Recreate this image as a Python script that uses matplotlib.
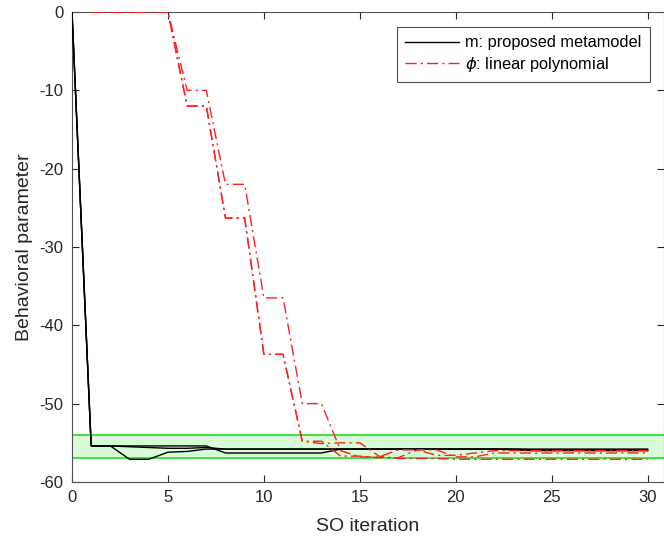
import numpy as np
import matplotlib
matplotlib.use('Agg')
from matplotlib import pyplot as plt

plt.rcParams['font.family'] = ['Liberation Sans', 'DejaVu Sans']
plt.rcParams['mathtext.fontset'] = 'dejavusans'
plt.rcParams['axes.unicode_minus'] = False

# band of the target behavioral parameter
band_lo = -57.0
band_hi = -54.0

# black runs: proposed metamodel
it_m = list(range(0, 31))
m_run1 = [0, -55.4, -55.4, -55.4, -55.4, -55.4, -55.4, -55.4, -56.3, -56.3,
          -56.3, -56.3, -56.3, -56.3, -55.8, -55.8, -55.8, -55.8, -55.8, -55.8,
          -55.8, -55.8, -55.8, -55.8, -55.8, -55.8, -55.8, -55.8, -55.8, -55.8, -55.8]
m_run2 = [0, -55.4, -55.4, -57.1, -57.1, -56.2, -56.1, -55.8, -55.8, -55.8,
          -55.8, -55.8, -55.8, -55.8, -55.8, -55.8, -55.8, -55.8, -55.8, -55.8,
          -55.8, -55.8, -55.8, -55.8, -55.9, -55.9, -55.9, -55.9, -55.9, -55.9, -55.9]
m_run3 = [0, -55.4, -55.4, -55.5, -55.6, -55.7, -55.7, -55.6, -55.8, -55.8,
          -55.8, -55.8, -55.8, -55.8, -55.8, -55.8, -55.8, -55.8, -55.8, -55.8,
          -55.8, -55.8, -55.8, -55.9, -56.0, -56.0, -56.0, -56.0, -56.0, -56.0, -56.0]

# red runs: linear polynomial
it_p = list(range(1, 31))
p_run1 = [0, 0, 0, 0, 0, -10, -10, -22, -22, -36.5,
          -36.5, -50, -50, -56.0, -56.8, -56.8, -55.9, -55.9, -56.6, -56.6,
          -56.3, -56.0, -56.0, -56.0, -56.0, -56.0, -56.0, -56.0, -56.0, -56.0]
p_run2 = [0, 0, 0, 0, 0, -12, -12, -26.3, -26.3, -43.7,
          -43.7, -54.8, -54.8, -56.7, -56.7, -56.9, -56.9, -55.9, -55.9, -56.8,
          -56.8, -56.3, -56.3, -56.3, -56.3, -56.3, -56.3, -56.3, -56.3, -56.3]
p_run3 = [0, 0, 0, 0, 0, -12, -12, -26.3, -26.3, -43.7,
          -43.7, -54.8, -55.1, -55.0, -55.0, -56.7, -57.0, -57.0, -57.0, -57.1,
          -57.1, -57.1, -57.1, -57.1, -57.1, -57.1, -57.1, -57.1, -57.1, -57.1]

fig = plt.figure(figsize=(6.64, 5.41), dpi=100)
ax = fig.add_axes([0.1084, 0.1091, 0.8916, 0.8687])

ax.axhspan(band_lo, band_hi, facecolor='#d8fcd8', edgecolor='none', zorder=0)
ax.axhline(band_lo, color='#22dd22', lw=1.2, zorder=1)
ax.axhline(band_hi, color='#22dd22', lw=1.2, zorder=1)

ax.plot(it_m, m_run1, color='k', lw=1.0, label='m: proposed metamodel', zorder=3)
ax.plot(it_m, m_run2, color='k', lw=1.0, zorder=3)
ax.plot(it_m, m_run3, color='k', lw=1.0, zorder=3)

dd = (0, (8, 3, 1.5, 3))
ax.plot(it_p, p_run1, color='#ff2020', lw=1.0, ls=dd, label=r'$\phi$: linear polynomial', zorder=4)
ax.plot(it_p, p_run2, color='#ff2020', lw=1.0, ls=dd, zorder=4)
ax.plot(it_p, p_run3, color='#ff2020', lw=1.0, ls=dd, zorder=4)

ax.set_xlim(0, 30.85)
ax.set_ylim(-60, 0)
ax.set_xticks([0, 5, 10, 15, 20, 25, 30])
ax.set_yticks([-60, -50, -40, -30, -20, -10, 0])
ax.tick_params(direction='in', top=True, right=True, length=5, width=0.8,
               labelsize=12, colors='#262626', pad=6)
for s in ax.spines.values():
    s.set_color('#505050')
    s.set_linewidth(0.8)

ax.set_xlabel('SO iteration', fontsize=14, color='#262626', labelpad=9)
ax.set_ylabel('Behavioral parameter', fontsize=14, color='#262626', labelpad=5)

leg = ax.legend(loc='upper right', bbox_to_anchor=(0.976, 0.968), fontsize=11.8,
                frameon=True, fancybox=False, handlelength=3.3, borderpad=0.5,
                labelspacing=0.3, handletextpad=0.35, borderaxespad=0)
leg.get_frame().set_edgecolor('#262626')
leg.get_frame().set_linewidth(0.8)

fig.savefig('out.png', dpi=100)
